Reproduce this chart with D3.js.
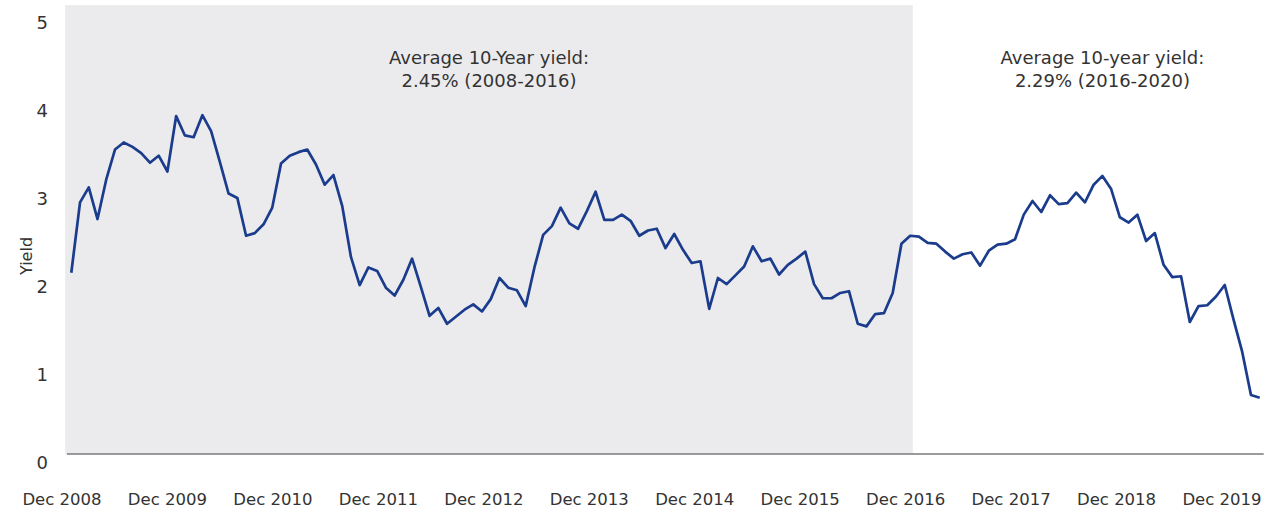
<!DOCTYPE html>
<html><head><meta charset="utf-8">
<script src="https://cdn.jsdelivr.net/npm/d3@7"></script>
<style>body{margin:0;background:#fff}svg{display:block;font-family:"DejaVu Sans",Verdana,sans-serif}</style>
</head><body><svg id="c" width="1279" height="513"></svg>
<script>
// Monthly month-end 10-year yields, Dec 2008 .. Apr 2020
const startYear = 2008, startMonth = 11; // Dec 2008
const yields = [
2.06,
2.86,3.03,2.67,3.12,3.46,3.54,3.49,3.42,3.31,3.39,3.21,3.84,
3.62,3.60,3.85,3.67,3.32,2.96,2.91,2.48,2.51,2.61,2.80,3.30,
3.39,3.43,3.46,3.29,3.06,3.17,2.82,2.24,1.92,2.12,2.08,1.89,
1.80,1.98,2.22,1.90,1.57,1.66,1.48,1.56,1.64,1.70,1.62,1.76,
2.00,1.89,1.86,1.68,2.12,2.49,2.59,2.80,2.62,2.56,2.76,2.98,
2.66,2.66,2.72,2.65,2.48,2.54,2.56,2.34,2.50,2.32,2.17,2.19,
1.65,2.00,1.93,2.03,2.13,2.36,2.19,2.22,2.04,2.15,2.22,2.30,
1.93,1.77,1.77,1.83,1.85,1.48,1.45,1.59,1.60,1.83,2.39,2.48,
2.47,2.40,2.39,2.30,2.22,2.27,2.29,2.14,2.31,2.38,2.39,2.44,
2.72,2.875,2.75,2.94,2.84,2.85,2.97,2.86,3.06,3.16,3.01,2.69,
2.63,2.72,2.42,2.51,2.15,2.01,2.02,1.50,1.68,1.69,1.79,1.92,
1.53,1.16,0.67,0.64
];
const yTicks = [0,1,2,3,4,5];
const xLabels = ["Dec 2008","Dec 2009","Dec 2010","Dec 2011","Dec 2012","Dec 2013","Dec 2014","Dec 2015","Dec 2016","Dec 2017","Dec 2018","Dec 2019"];
const shadeRange = [-0.7, 96.3]; // months from Dec 2008 (2008-2016 period)
const annotations = [
  {at: 47.8, lines: ["Average 10-Year yield:", "2.45% (2008-2016)"]},
  {at: 118.0, lines: ["Average 10-year yield:", "2.29% (2016-2020)"]}
];
const yAxisTitle = "Yield";

const svg = d3.select("#c");
const x = d3.scaleLinear().domain([0, yields.length - 1]).range([71.3, 1259.7]);
const y = d3.scaleLinear().domain([0, 5]).range([454, 14]);
const xl = d3.scalePoint().domain(xLabels).range([62, 1222]);

// shaded period
svg.append("rect")
  .attr("x", x(shadeRange[0])).attr("y", y(5.1))
  .attr("width", x(shadeRange[1]) - x(shadeRange[0]))
  .attr("height", y(0) - y(5.1))
  .attr("fill", "#ebebee");

// x axis line
svg.append("line")
  .attr("x1", x(-0.5)).attr("x2", x(yields.length - 1) + 4)
  .attr("y1", y(0)).attr("y2", y(0))
  .attr("stroke", "#7a7a7a").attr("stroke-width", 1.5);

// y tick labels
svg.append("g").selectAll("text").data(yTicks).join("text")
  .attr("x", 48).attr("y", d => y(d) + 9)
  .attr("dy", "0.35em").attr("text-anchor", "end")
  .attr("font-size", 18).attr("fill", "#333")
  .text(d => d);

// x labels
svg.append("g").selectAll("text").data(xLabels).join("text")
  .attr("x", d => xl(d)).attr("y", 499)
  .attr("dy", "0.35em").attr("text-anchor", "middle")
  .attr("font-size", 16.5).attr("fill", "#333")
  .text(d => d);

// y axis title
svg.append("text")
  .attr("transform", `translate(26,${y(2.25)}) rotate(-90)`)
  .attr("text-anchor", "middle").attr("dy", "0.35em")
  .attr("font-size", 16).attr("fill", "#333")
  .text(yAxisTitle);

// annotations
annotations.forEach(a => {
  a.lines.forEach((t, i) => {
    svg.append("text")
      .attr("x", x(a.at)).attr("y", 64 + i * 23)
      .attr("text-anchor", "middle")
      .attr("font-size", 18).attr("fill", "#333")
      .text(t);
  });
});

// line
svg.append("path")
  .datum(yields)
  .attr("fill", "none").attr("stroke", "#1b3c8c")
  .attr("stroke-width", 2.7).attr("stroke-linejoin", "round")
  .attr("d", d3.line().x((d, i) => x(i)).y(d => y(d)));
</script></body></html>
